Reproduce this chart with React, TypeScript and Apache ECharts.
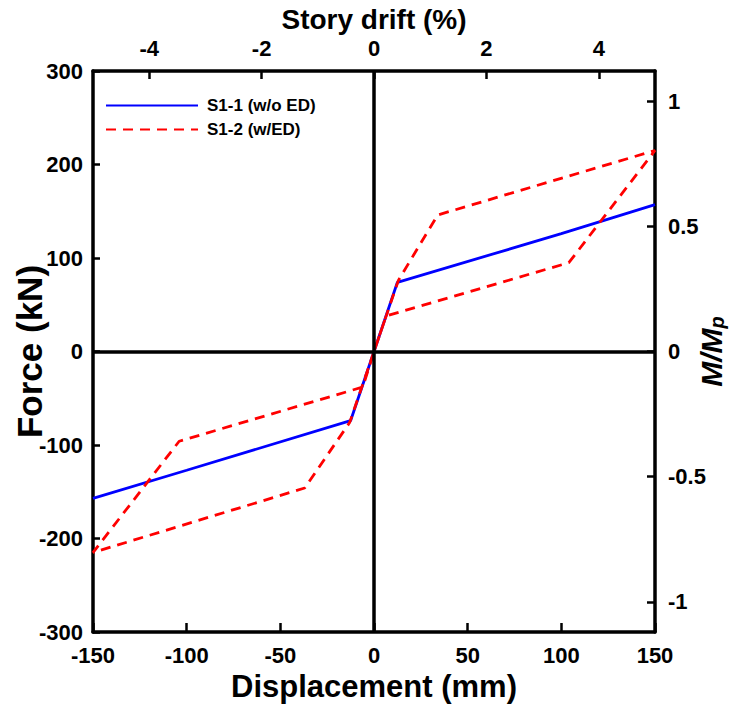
import React, { useEffect, useRef } from "react";
import * as echarts from "echarts";

// S1-1 (w/o ED)
const dispS11 = [-150, -100, -12.5, 0, 12.5, 100, 150];
const forceS11 = [-157, -127, -74, 0, 74, 126, 157];

// S1-2 (w/ED)
const dispS12 = [0, 13, 34, 150, 104, 6.5, -13, -37, -150, -104, -6, 0];
const forceS12 = [0, 76, 146, 215, 95, 38, -76, -146, -215, -96, -38, 0];

const seriesNames = ["S1-1 (w/o ED)", "S1-2 (w/ED)"];
const driftTicks = [-4, -2, 0, 2, 4];
const ratioTicks = [-1, -0.5, 0, 0.5, 1];

const FONT = "'Liberation Sans', Arial, sans-serif";

export default function App() {
  const ref = useRef<HTMLDivElement>(null);
  useEffect(() => {
    if (!ref.current) return;
    const chart = echarts.init(ref.current, undefined, { renderer: "svg" });
    const axisLine = { show: true, onZero: false, lineStyle: { color: "#000", width: 3.5 } };
    const labelStyle = { color: "#000", fontFamily: FONT, fontWeight: "bold" as const, fontSize: 22 };
    const nameStyle = { color: "#000", fontFamily: FONT, fontWeight: "bold" as const };
    chart.setOption({
      animation: false,
      backgroundColor: "#fff",
      grid: { left: 93, right: 78, top: 71, bottom: 75, containLabel: false, outerBoundsMode: "none" },
      legend: {
        left: 105,
        top: 97,
        padding: 0,
        orient: "vertical",
        itemWidth: 92,
        itemHeight: 14,
        itemGap: 7,
        data: seriesNames,
        itemStyle: { opacity: 0 },
        textStyle: { color: "#000", fontFamily: FONT, fontWeight: "bold", fontSize: 17, padding: [0, 0, 0, 4] },
      },
      xAxis: [
        {
          type: "value",
          position: "bottom",
          min: -150,
          max: 150,
          interval: 50,
          axisLine,
          axisTick: { show: true, inside: true, length: 9, lineStyle: { color: "#000", width: 2.5 } },
          axisLabel: { ...labelStyle, margin: 12 },
          splitLine: { show: false },
          name: "Displacement (mm)",
          nameLocation: "middle",
          nameMoveOverlap: false,
          nameGap: 39,
          nameTextStyle: { ...nameStyle, fontSize: 31 },
        },
        {
          type: "value",
          position: "top",
          min: -5,
          max: 5,
          axisLine,
          axisTick: { show: true, inside: true, length: 8, customValues: driftTicks, lineStyle: { color: "#000", width: 2.5 } },
          axisLabel: { ...labelStyle, margin: 12, customValues: driftTicks },
          splitLine: { show: false },
          name: "Story drift (%)",
          nameLocation: "middle",
          nameMoveOverlap: false,
          nameGap: 38,
          nameTextStyle: { ...nameStyle, fontSize: 28 },
        },
      ],
      yAxis: [
        {
          type: "value",
          position: "left",
          min: -300,
          max: 300,
          interval: 100,
          axisLine,
          axisTick: { show: true, inside: true, length: 7, lineStyle: { color: "#000", width: 2.5 } },
          axisLabel: { ...labelStyle, margin: 10 },
          splitLine: { show: false },
          name: "Force (kN)",
          nameLocation: "middle",
          nameMoveOverlap: false,
          nameRotate: 90,
          nameGap: 46,
          nameTextStyle: { ...nameStyle, fontSize: 35 },
        },
        {
          type: "value",
          position: "right",
          min: -1.12,
          max: 1.12,
          axisLine,
          axisTick: { show: true, inside: true, length: 8, customValues: ratioTicks, lineStyle: { color: "#000", width: 2.5 } },
          axisLabel: { ...labelStyle, margin: 13, customValues: ratioTicks },
          splitLine: { show: false },
          name: "{a|M/M}{b|p}",
          nameLocation: "middle",
          nameMoveOverlap: false,
          nameRotate: 90,
          nameGap: 40,
          nameTextStyle: {
            ...nameStyle,
            rich: {
              a: { fontFamily: FONT, fontWeight: "bold", fontStyle: "italic", fontSize: 30, color: "#000" },
              b: { fontFamily: FONT, fontWeight: "bold", fontStyle: "italic", fontSize: 20, color: "#000", padding: [12, 0, 0, 0] },
            },
          },
        },
      ],
      series: [
        {
          type: "line",
          name: "zero",
          data: [],
          z: 1,
          silent: true,
          markLine: {
            silent: true,
            symbol: ["none", "none"],
            label: { show: false },
            lineStyle: { color: "#000", width: 3.5, type: "solid" },
            data: [{ xAxis: 0 }, { yAxis: 0 }],
          },
        },
        {
          type: "line",
          name: seriesNames[0],
          data: dispS11.map((d, i) => [d, forceS11[i]]),
          showSymbol: false,
          symbol: "none",
          z: 3,
          color: "#0000ff",
          lineStyle: { color: "#0000ff", width: 2.8, type: "solid" },
        },
        {
          type: "line",
          name: seriesNames[1],
          data: dispS12.map((d, i) => [d, forceS12[i]]),
          showSymbol: false,
          symbol: "none",
          z: 4,
          color: "#ff0000",
          lineStyle: { color: "#ff0000", width: 2.8, type: [10, 7] },
        },
      ],
    });
    return () => chart.dispose();
  }, []);
  return <div ref={ref} style={{ position: "absolute", left: 0, top: 0, width: 733, height: 707 }} />;
}
